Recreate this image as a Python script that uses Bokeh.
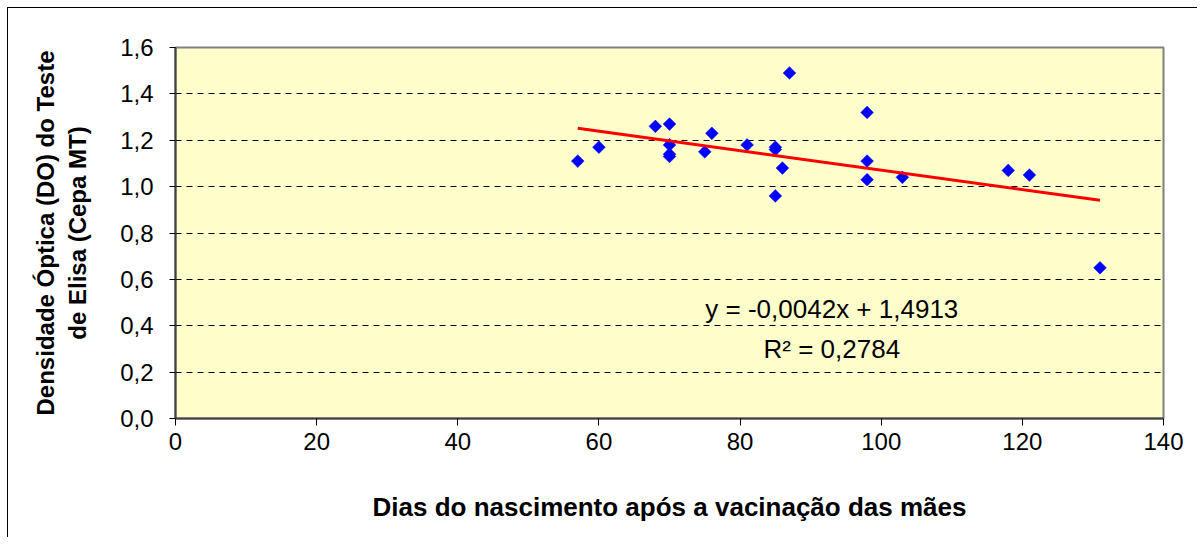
from bokeh.plotting import figure
from bokeh.models import Range1d, FixedTicker, CustomJSTickFormatter, Label, ColumnDataSource
from bokeh.embed import file_html
from bokeh.resources import INLINE
import math

# ---- data ----
days = [57, 60, 68, 70, 70, 70, 70, 75, 76, 81, 85, 85, 86, 85, 87, 98, 98, 98, 103, 118, 121, 131]
density = [1.11, 1.17, 1.26, 1.27, 1.18, 1.14, 1.13, 1.15, 1.23, 1.18, 1.17, 1.16, 1.08, 0.96, 1.49,
           1.32, 1.11, 1.03, 1.04, 1.07, 1.05, 0.65]
trend_slope = -0.0042
trend_intercept = 1.4913
equation_text = "y = -0,0042x + 1,4913"
r2_text = "R² = 0,2784"
x_ticks = [0, 20, 40, 60, 80, 100, 120, 140]
y_ticks = [0.0, 0.2, 0.4, 0.6, 0.8, 1.0, 1.2, 1.4, 1.6]
grid_ticks = [0.2, 0.4, 0.6, 0.8, 1.0, 1.2, 1.4]
x_label = "Dias do nascimento após a vacinação das mães"
y_label = "Densidade Óptica (DO) do Teste\nde Elisa (Cepa MT)"

FONT = "Liberation Sans"

p = figure(width=1190, height=530, output_backend="svg", toolbar_location=None,
           x_range=Range1d(0, 140), y_range=Range1d(0, 1.6),
           min_border_left=167, min_border_right=35, min_border_top=39, min_border_bottom=120)
p.styles = {"margin-left": "7px", "margin-top": "7px",
            "border-left": "1px solid black", "border-top": "1px solid black"}

p.background_fill_color = "#FFFFCC"
p.border_fill_color = "white"
p.outline_line_color = "#808080"
p.outline_line_width = 2

# axes
for ax in (p.xaxis[0], p.yaxis[0]):
    ax.axis_line_color = "#404040"
    ax.axis_line_width = 2
    ax.major_tick_line_color = "black"
    ax.major_tick_in = 0
    ax.minor_tick_line_color = None
    ax.major_label_text_font = FONT
    ax.major_label_text_font_size = "24px"
    ax.major_label_text_color = "black"
    ax.axis_label_text_font = FONT
    ax.axis_label_text_font_style = "bold"
    ax.axis_label_text_color = "black"

p.xaxis.ticker = FixedTicker(ticks=x_ticks)
p.xaxis.major_tick_out = 7
p.xaxis.major_label_standoff = 7
p.xaxis.axis_label = x_label
p.xaxis.axis_label_text_font_size = "26px"
p.xaxis.axis_label_standoff = 39

p.yaxis.ticker = FixedTicker(ticks=y_ticks)
p.yaxis.formatter = CustomJSTickFormatter(code="return tick.toFixed(1).replace('.', ',');")
p.yaxis.major_tick_out = 6
p.yaxis.major_label_standoff = 16
p.yaxis.axis_label = y_label
p.yaxis.axis_label_text_font_size = "24px"
p.yaxis.axis_label_standoff = 26

# grid
p.xgrid.grid_line_color = None
p.ygrid.ticker = FixedTicker(ticks=grid_ticks)
p.ygrid.grid_line_color = "black"
p.ygrid.grid_line_width = 1
p.ygrid.grid_line_dash = "6 5"

# points
src = ColumnDataSource(dict(x=days, y=density))
p.scatter("x", "y", source=src, marker="square", angle=math.pi / 4, size=9,
          fill_color="#0000FF", line_color="#0000FF", line_width=0.5)

# trend line
x0, x1 = min(days), max(days)
p.line([x0, x1], [trend_slope * x0 + trend_intercept, trend_slope * x1 + trend_intercept],
       line_color="#FF0000", line_width=3)

# equation labels
p.add_layout(Label(x=93, y=0.472, text=equation_text, text_align="center", text_baseline="middle",
                   text_font=FONT, text_font_size="26px", text_color="black"))
p.add_layout(Label(x=93, y=0.298, text=r2_text, text_align="center", text_baseline="middle",
                   text_font=FONT, text_font_size="26px", text_color="black"))

open("out.html", "w").write(file_html(p, INLINE))
